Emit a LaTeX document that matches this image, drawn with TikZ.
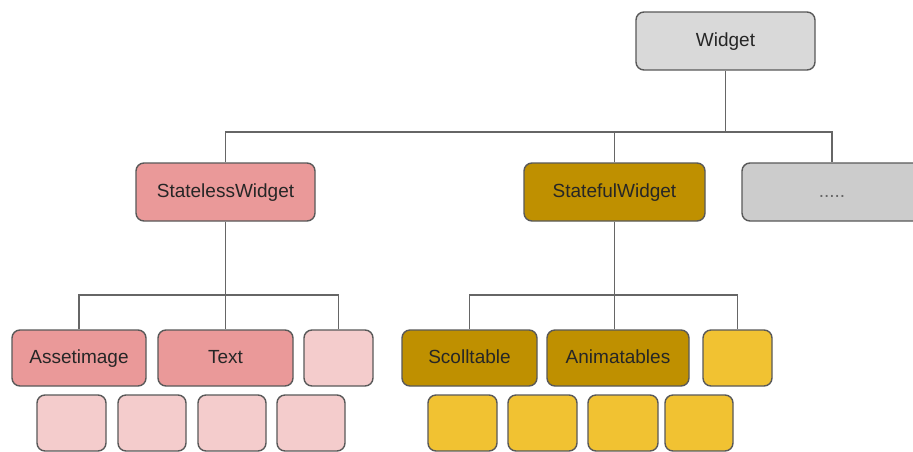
\documentclass[tikz,border=0pt]{standalone}
\usepackage{fontspec}
\setmainfont{Liberation Sans}
\definecolor{gfill}{HTML}{D9D9D9}
\definecolor{dfill}{HTML}{CCCCCC}
\definecolor{pinkA}{HTML}{EA9999}
\definecolor{pinkB}{HTML}{F4CCCC}
\definecolor{yelA}{HTML}{BF9000}
\definecolor{yelB}{HTML}{F1C232}
\definecolor{edge}{HTML}{595959}
\definecolor{wire}{HTML}{666666}
\definecolor{txt}{HTML}{262626}
\begin{document}
\begin{tikzpicture}[x=1pt,y=-1pt,
  box/.style={draw=edge, line width=1.4pt, rounded corners=8pt, inner sep=0pt,
    minimum height=58pt, text=txt, font=\fontsize{19}{22}\selectfont,
    text height=14pt, text depth=4pt},
  small/.style={box, minimum height=56pt},
  wirestyle/.style={draw=wire, line width=1.3pt}]
\useasboundingbox (0,0) rectangle (913,451);
\clip (0,0) rectangle (913,451);
\fill[white] (0,0) rectangle (913,451);
% top level
\node[box, fill=gfill, minimum width=179pt] (widget) at (725.5,41) {Widget};
\node[box, fill=pinkA, minimum width=179pt] (sl) at (225.5,192) {StatelessWidget};
\node[box, fill=yelA, minimum width=181pt] (sf) at (614.5,192) {StatefulWidget};
\node[box, fill=dfill, minimum width=180pt, text=wire] (dots) at (832,192) {.....};
% stateless children
\node[small, fill=pinkA, minimum width=134pt] (ai) at (79,358) {Assetimage};
\node[small, fill=pinkA, minimum width=135pt] (tx) at (225.5,358) {Text};
\node[small, fill=pinkB, minimum width=69pt] (ps) at (338.5,358) {};
\node[small, fill=pinkB, minimum width=69pt] (pb1) at (71.5,423) {};
\node[small, fill=pinkB, minimum width=68pt] (pb2) at (152,423) {};
\node[small, fill=pinkB, minimum width=68pt] (pb3) at (232,423) {};
\node[small, fill=pinkB, minimum width=68pt] (pb4) at (311,423) {};
% stateful children
\node[small, fill=yelA, minimum width=135pt] (sc) at (469.5,358) {Scolltable};
\node[small, fill=yelA, minimum width=142pt] (an) at (618,358) {Animatables};
\node[small, fill=yelB, minimum width=69pt] (ys) at (737.5,358) {};
\node[small, fill=yelB, minimum width=69pt] (yb1) at (462.5,423) {};
\node[small, fill=yelB, minimum width=69pt] (yb2) at (542.5,423) {};
\node[small, fill=yelB, minimum width=70pt] (yb3) at (623,423) {};
\node[small, fill=yelB, minimum width=68pt] (yb4) at (699,423) {};
% buses
\coordinate (bus1) at (725.5,132);
\coordinate (bus2) at (225.5,295);
\coordinate (bus3) at (614.5,295);
\draw[wirestyle] (widget.south) -- (bus1);
\draw[wirestyle] (sl.north) |- (bus1) -| (dots.north);
\draw[wirestyle] (sf.north) -- (sf.north |- bus1);
\draw[wirestyle] (sl.south) -- (tx.north);
\draw[wirestyle] (ai.north) |- (bus2) -| (ps.north);
\draw[wirestyle] (sf.south) -- (sf.south |- an.north);
\draw[wirestyle] (sc.north) |- (bus3) -| (ys.north);
\end{tikzpicture}
\end{document}
